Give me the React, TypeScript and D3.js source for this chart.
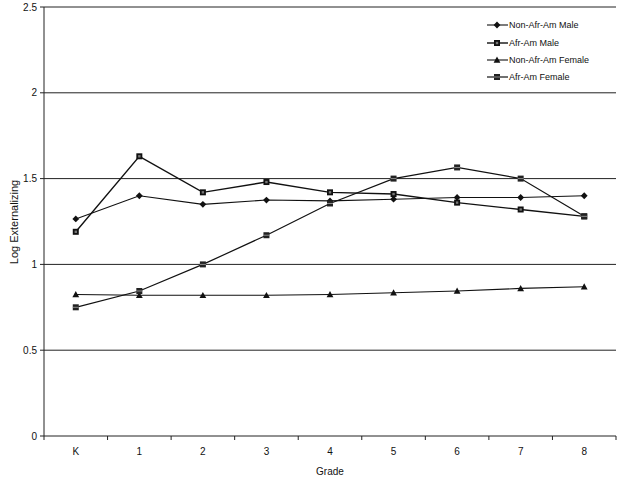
import React from "react";
import * as d3 from "d3";

const grades = ["K", "1", "2", "3", "4", "5", "6", "7", "8"];
const nonAfrAmMale = [1.265, 1.40, 1.35, 1.375, 1.37, 1.38, 1.39, 1.39, 1.40];
const afrAmMale = [1.19, 1.63, 1.42, 1.48, 1.42, 1.41, 1.36, 1.32, 1.28];
const nonAfrAmFemale = [0.825, 0.82, 0.82, 0.82, 0.825, 0.835, 0.845, 0.86, 0.87];
const afrAmFemale = [0.75, 0.845, 1.0, 1.17, 1.355, 1.50, 1.565, 1.50, 1.28];
const yTicks = [0, 0.5, 1, 1.5, 2, 2.5];
const seriesNames = ["Non-Afr-Am Male", "Afr-Am Male", "Non-Afr-Am Female", "Afr-Am Female"];

const W = 623, H = 479;
const left = 44, right = 616, top = 7, bottom = 436;

function Marker({ type, x, y }: { type: string; x: number; y: number }) {
  if (type === "diamond") {
    const s = 3.4;
    return <path d={`M${x},${y - s}L${x + s},${y}L${x},${y + s}L${x - s},${y}Z`} fill="#111" />;
  }
  if (type === "triangle") {
    const s = 3.4;
    return <path d={`M${x},${y - s}L${x + s},${y + s * 0.8}L${x - s},${y + s * 0.8}Z`} fill="#111" />;
  }
  if (type === "square") {
    return (
      <g>
        <rect x={x - 3} y={y - 3} width={6} height={6} fill="#111" />
        <rect x={x - 1.2} y={y - 1.2} width={2.4} height={2.4} fill="#777" />
      </g>
    );
  }
  return (
    <g>
      <rect x={x - 3} y={y - 3} width={6} height={6} fill="#222" />
      <line x1={x - 3} x2={x + 3} y1={y} y2={y} stroke="#aaa" strokeWidth={0.8} />
    </g>
  );
}

export default function App() {
  const x = d3.scaleBand<string>().domain(grades).range([left, right]);
  const y = d3.scaleLinear().domain([0, 2.5]).range([bottom, top]);
  const cx = (g: string) => (x(g) as number) + x.bandwidth() / 2;
  const series = [
    { name: seriesNames[0], values: nonAfrAmMale, marker: "diamond", w: 1.1 },
    { name: seriesNames[1], values: afrAmMale, marker: "square", w: 1.4 },
    { name: seriesNames[2], values: nonAfrAmFemale, marker: "triangle", w: 1.1 },
    { name: seriesNames[3], values: afrAmFemale, marker: "square2", w: 1.2 },
  ];
  const line = d3
    .line<number>()
    .x((_, i) => cx(grades[i]))
    .y((v) => y(v));
  const font = "Liberation Sans, Arial, sans-serif";
  const legendY = [25, 43, 60, 77];

  return (
    <svg width={W} height={H} style={{ position: "absolute", left: 0, top: 0, background: "#fff" }} fontFamily={font}>
      <rect width={W} height={H} fill="#fff" />
      {yTicks.map((t) => (
        <g key={t}>
          {t > 0 && <line x1={left} x2={right} y1={y(t)} y2={y(t)} stroke="#222" strokeWidth={1} />}
          <line x1={left - 4} x2={left} y1={y(t)} y2={y(t)} stroke="#222" strokeWidth={1} />
          <text x={left - 7} y={y(t) + 3.5} fontSize={10} textAnchor="end" fill="#111">
            {t}
          </text>
        </g>
      ))}
      <line x1={left} x2={left} y1={top} y2={bottom} stroke="#222" strokeWidth={1} />
      <line x1={left} x2={right} y1={bottom} y2={bottom} stroke="#222" strokeWidth={1} />
      {grades.map((g, i) => (
        <g key={g}>
          <line x1={(x(g) as number) + x.bandwidth()} x2={(x(g) as number) + x.bandwidth()} y1={bottom} y2={bottom + 4} stroke="#222" />
          {i === 0 && <line x1={left} x2={left} y1={bottom} y2={bottom + 4} stroke="#222" />}
          <text x={cx(g)} y={bottom + 19} fontSize={10} textAnchor="middle" fill="#111">
            {g}
          </text>
        </g>
      ))}
      <text x={(left + right) / 2} y={475} fontSize={10} textAnchor="middle" fill="#111">
        Grade
      </text>
      <text transform={`translate(18,222) rotate(-90)`} fontSize={11} textAnchor="middle" fill="#111">
        Log Externalizing
      </text>
      {series.map((s) => (
        <g key={s.name}>
          <path d={line(s.values) || ""} fill="none" stroke="#111" strokeWidth={s.w} />
          {s.values.map((v, i) => (
            <Marker key={i} type={s.marker} x={cx(grades[i])} y={y(v)} />
          ))}
        </g>
      ))}
      {series.map((s, i) => (
        <g key={s.name}>
          <line x1={487} x2={508} y1={legendY[i]} y2={legendY[i]} stroke="#111" strokeWidth={s.w} />
          <Marker type={s.marker} x={497} y={legendY[i]} />
          <text x={509} y={legendY[i] + 3.2} fontSize={9} fill="#111">
            {s.name}
          </text>
        </g>
      ))}
    </svg>
  );
}
